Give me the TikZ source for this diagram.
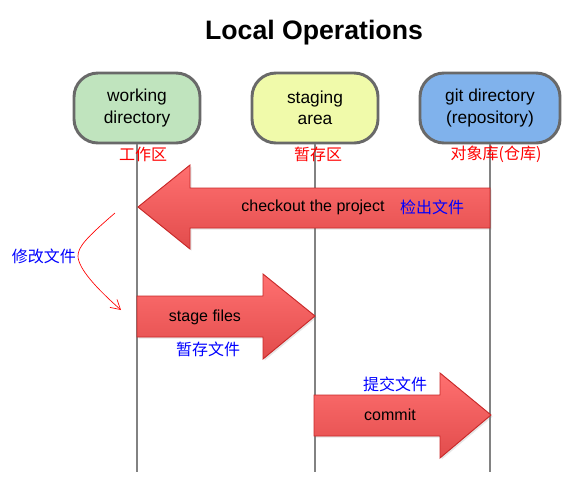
\documentclass[tikz,border=0pt]{standalone}
\usepackage{fontspec}
\setmainfont{Liberation Sans}
\newfontfamily\cjk{Noto Sans CJK SC}
\usepackage{tikz}
\usetikzlibrary{arrows.meta,positioning,shadows}

\definecolor{boxedge}{RGB}{105,105,105}
\definecolor{boxgreen}{RGB}{192,228,190}
\definecolor{boxyellow}{RGB}{240,250,170}
\definecolor{boxblue}{RGB}{128,178,236}
\definecolor{lifegray}{RGB}{130,130,130}
\definecolor{arrowtop}{RGB}{255,112,112}
\definecolor{arrowbottom}{RGB}{226,76,76}
\definecolor{arrowedge}{RGB}{200,40,40}

\tikzset{
  stagebox/.style={draw=boxedge, line width=2.2pt, rounded corners=18pt,
    minimum width=94.5pt, minimum height=52.5pt, align=center,
    font=\fontsize{13}{16}\selectfont},
  lifeline/.style={draw=lifegray, line width=2.2pt},
  fatarrow/.style={draw=arrowedge, line width=0.7pt, top color=arrowtop,
    bottom color=arrowbottom,
    drop shadow={shadow xshift=1.2pt, shadow yshift=-1.2pt, opacity=0.2}},
  arrowtext/.style={font=\fontsize{12}{14}\selectfont},
  zhred/.style={text=red, font=\cjk\fontsize{12}{14}\selectfont},
  zhblue/.style={text=blue, font=\cjk\fontsize{12}{14}\selectfont},
  editarrow/.style={draw=red, line width=0.5pt, -{Straight Barb[length=7pt,width=8pt]}}
}

\begin{document}
\begin{tikzpicture}[x=0.75pt, y=-0.75pt]
\useasboundingbox (0,0) rectangle (586,500);

% title
\node[font=\bfseries\fontsize{20}{24}\selectfont] (title) at (314,33) {Local Operations};

% the three areas
\node[stagebox, fill=boxgreen] (work) at (137,108) {working\\directory};
\node[stagebox, fill=boxyellow] (stage) at (315,108) {staging\\area};
\node[stagebox, fill=boxblue, minimum width=105pt] (repo) at (490,108) {git directory\\(repository)};

% lifelines
\coordinate (workend) at (137,472);
\coordinate (stageend) at (315,472);
\coordinate (repoend) at (490,472);
\draw[lifeline] (work.south) -- (workend);
\draw[lifeline] (stage.south) -- (stageend);
\draw[lifeline] (repo.south) -- (repoend);

\node[zhred] (worklabel) at (143,154) {工作区};
\node[zhred] (stagelabel) at (318,154) {暂存区};
\node[zhred] (repolabel) at (496,154) {对象库(仓库)};

% checkout
\draw[fatarrow] (490,188) -- (190,188) -- (190,165) -- (138,207) -- (190,249)
  -- (190,228) -- (490,228) -- cycle;
\node[arrowtext] (checkout) at (313,207) {checkout the project};
\node[zhblue] (checkoutzh) at (432,207) {检出文件};

% stage files
\draw[fatarrow] (137,296) -- (263,296) -- (263,274) -- (315,316) -- (263,359)
  -- (263,337) -- (137,337) -- cycle;
\node[arrowtext] (stagefiles) at (205,317) {stage files};
\node[zhblue] (stagezh) at (208,349) {暂存文件};

% commit
\draw[fatarrow] (314,395) -- (440,395) -- (440,373) -- (491,415) -- (440,458)
  -- (440,436) -- (314,436) -- cycle;
\node[arrowtext] (commit) at (390,415) {commit};
\node[zhblue] (commitzh) at (395,384) {提交文件};

% editing
\coordinate (editstart) at (115,213);
\coordinate (editend) at (121,310);
\draw[editarrow] (editstart) .. controls (86,238) and (78,247) .. (78,256)
  .. controls (78,268) and (96,288) .. (editend);
\node[zhblue] (edittext) at (44,256) {修改文件};
\end{tikzpicture}
\end{document}
